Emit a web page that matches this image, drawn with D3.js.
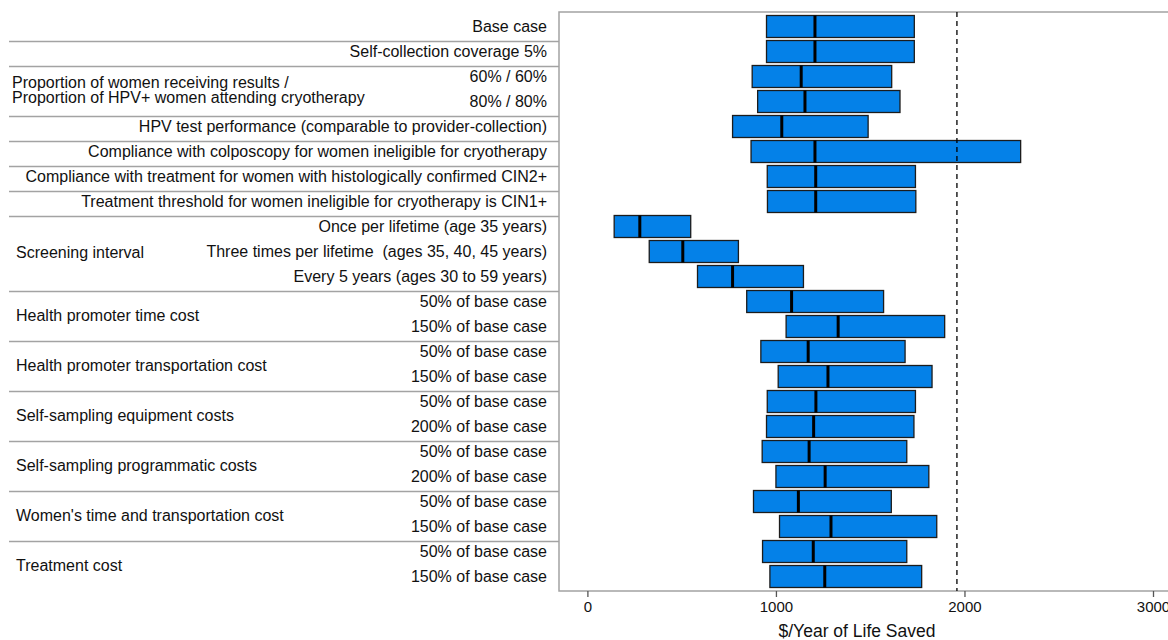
<!DOCTYPE html>
<html>
<head>
<meta charset="utf-8">
<script src="https://cdn.jsdelivr.net/npm/d3@7"></script>
<style>
  body { margin: 0; background: #fff; }
  svg { display: block; font-family: "Liberation Sans", Arial, sans-serif; }
  text { white-space: pre; }
</style>
</head>
<body>
<svg id="chart" width="1168" height="640"></svg>
<script>
// row labels (right-aligned, next to the axis)
const rowLabels = [
  'Base case',
  'Self-collection coverage 5%',
  '60% / 60%',
  '80% / 80%',
  'HPV test performance (comparable to provider-collection)',
  'Compliance with colposcopy for women ineligible for cryotherapy',
  'Compliance with treatment for women with histologically confirmed CIN2+',
  'Treatment threshold for women ineligible for cryotherapy is CIN1+',
  'Once per lifetime (age 35 years)',
  'Three times per lifetime  (ages 35, 40, 45 years)',
  'Every 5 years (ages 30 to 59 years)',
  '50% of base case',
  '150% of base case',
  '50% of base case',
  '150% of base case',
  '50% of base case',
  '200% of base case',
  '50% of base case',
  '200% of base case',
  '50% of base case',
  '150% of base case',
  '50% of base case',
  '150% of base case'
]

// group labels: [first row, last row, text lines]
const groupLabels = [
  [2, 3, ['Proportion of women receiving results /', 'Proportion of HPV+ women attending cryotherapy']],
  [8, 10, ['Screening interval']],
  [11, 12, ['Health promoter time cost']],
  [13, 14, ['Health promoter transportation cost']],
  [15, 16, ['Self-sampling equipment costs']],
  [17, 18, ['Self-sampling programmatic costs']],
  [19, 20, ["Women's time and transportation cost"]],
  [21, 22, ['Treatment cost']]
]

// rows where a separator line starts
const separators = [1, 2, 4, 5, 6, 7, 8, 11, 13, 15, 17, 19, 21]

// $/year of life saved
const lowValues = [950, 950, 874, 903, 770, 868, 954, 955, 142, 328, 584, 845, 1054, 920, 1012, 954, 950, 927, 1000, 881, 1019, 929, 968]
const midValues = [1207, 1207, 1134, 1154, 1031, 1207, 1211, 1211, 278, 506, 770, 1083, 1330, 1171, 1276, 1212, 1200, 1176, 1261, 1119, 1292, 1198, 1259]
const highValues = [1734, 1734, 1614, 1658, 1489, 2298, 1740, 1742, 548, 801, 1146, 1571, 1895, 1685, 1828, 1740, 1732, 1694, 1811, 1612, 1853, 1694, 1773]

const xTicks = [0, 1000, 2000, 3000]
const threshold = 1960

const svg = d3.select('#chart')

const plotLeft = 559
const plotTop = 12
const plotBottom = 591
const labelSize = 16

const x = d3.scaleLinear()
  .domain([0, 3000])
  .range([587.4, 1153])

const y = d3.scaleBand()
  .domain(d3.range(rowLabels.length))
  .range([14, 589])
  .paddingInner(0.12)
  .paddingOuter(0.06)

const grey = '#a3a3a3'

// separator lines in the label panel
svg.selectAll('.sep')
  .data(separators)
  .join('line')
    .attr('class', 'sep')
    .attr('x1', 9)
    .attr('x2', plotLeft)
    .attr('y1', d => Math.round(y(d)) + 0.5)
    .attr('y2', d => Math.round(y(d)) + 0.5)
    .attr('stroke', grey)
    .attr('stroke-width', 1.5)

// plot frame
svg.append('path')
  .attr('d', `M1168,${plotTop}H${plotLeft}V${plotBottom}H1168`)
  .attr('fill', 'none')
  .attr('stroke', grey)
  .attr('stroke-width', 1.5)

// row labels
svg.selectAll('.row-label')
  .data(rowLabels)
  .join('text')
    .attr('class', 'row-label')
    .attr('x', 547)
    .attr('y', (d, i) => y(i) + y.bandwidth() / 2)
    .attr('dy', '0.35em')
    .attr('text-anchor', 'end')
    .attr('font-size', labelSize)
    .attr('fill', '#111')
    .text(d => d)

// group labels
const groups = svg.selectAll('.group-label')
  .data(groupLabels)
  .join('text')
    .attr('class', 'group-label')
    .attr('font-size', labelSize)
    .attr('fill', '#111')

groups.each(function(g) {
  const cy = (y(g[0]) + y(g[1]) + y.bandwidth()) / 2
  const lines = g[2]
  d3.select(this).selectAll('tspan')
    .data(lines)
    .join('tspan')
      .attr('x', lines.length > 1 ? 12 : 16)
      .attr('y', (d, i) => cy + 1 + (i - (lines.length - 1) / 2) * 15.5)
      .attr('dy', '0.35em')
      .text(d => d)
})

// bars
svg.selectAll('.bar')
  .data(rowLabels)
  .join('rect')
    .attr('class', 'bar')
    .attr('x', (d, i) => x(lowValues[i]))
    .attr('y', (d, i) => y(i))
    .attr('width', (d, i) => x(highValues[i]) - x(lowValues[i]))
    .attr('height', y.bandwidth())
    .attr('fill', '#0481e8')
    .attr('stroke', '#1c1c1c')
    .attr('stroke-width', 1.3)

// base-value marks
svg.selectAll('.mid')
  .data(rowLabels)
  .join('line')
    .attr('class', 'mid')
    .attr('x1', (d, i) => x(midValues[i]))
    .attr('x2', (d, i) => x(midValues[i]))
    .attr('y1', (d, i) => y(i))
    .attr('y2', (d, i) => y(i) + y.bandwidth())
    .attr('stroke', '#000')
    .attr('stroke-width', 3)

// threshold line
svg.append('line')
  .attr('x1', x(threshold))
  .attr('x2', x(threshold))
  .attr('y1', plotTop)
  .attr('y2', plotBottom)
  .attr('stroke', '#000')
  .attr('stroke-width', 1.3)
  .attr('stroke-dasharray', '5,4')

// x axis
const xAxis = d3.axisBottom(x)
  .tickValues(xTicks)
  .tickSize(6)
  .tickPadding(4)
  .tickFormat(d3.format('d'))

const axisG = svg.append('g')
  .attr('transform', `translate(0, ${plotBottom})`)
  .call(xAxis)

axisG.select('.domain').remove()
axisG.selectAll('.tick line').attr('stroke', '#555').attr('stroke-width', 1.3)
axisG.selectAll('.tick text')
  .attr('font-size', 15)
  .attr('font-family', '"Liberation Sans", Arial, sans-serif')
  .attr('fill', '#111')

svg.append('text')
  .attr('x', 857)
  .attr('y', 637)
  .attr('text-anchor', 'middle')
  .attr('font-size', 17.5)
  .attr('fill', '#111')
  .text('$/Year of Life Saved')
</script>
</body>
</html>
